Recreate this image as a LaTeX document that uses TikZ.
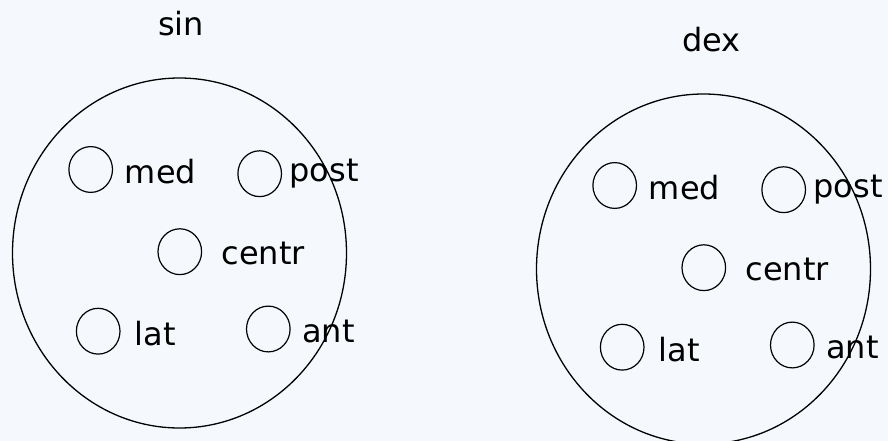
\documentclass[tikz,border=0pt]{standalone}
\usepackage{fontspec}
\setmainfont{DejaVu Sans}
\definecolor{paper}{RGB}{245,249,253}
\tikzset{
  lobe/.style={line width=1.3pt},
  spot/.style={line width=1.2pt},
  lbl/.style={anchor=base west, inner sep=0pt, font=\fontsize{32}{38}\selectfont},
}
\begin{document}
\begin{tikzpicture}[x=1pt,y=-1pt]
            % Background
            \fill[paper] (0,0) rectangle (888,441);
            \useasboundingbox (0,0) rectangle (888,441);
            \clip (0,0) rectangle (888,441);

            % Left (sin) and right (dex) halves
            \foreach \side/\dx/\dy/\tx in {sin/0/0/181, dex/524/16/187.3} {
                \begin{scope}[shift={(\dx,\dy)}]
                    \node[lbl, anchor=base] (\side) at (\tx,35.7) {\side};
                    \draw[lobe] (179.5,253) ellipse (167 and 175);
                    % Spots + labels
                    \foreach \part/\cx/\cy/\lx/\ly in {med/90.7/169.5/124.7/183.3,
                        post/259.7/173.7/289.3/181, centr/179.8/251.7/221.3/264,
                        lat/98.2/331.2/134.3/345, ant/268.3/329/302/342.3} {
                        \draw[spot] (\cx,\cy) ellipse (21.8 and 22.9);
                        \node[lbl] (\side-\part) at (\lx,\ly) {\part};
                    }
                \end{scope}
            }
        \end{tikzpicture}
\end{document}
